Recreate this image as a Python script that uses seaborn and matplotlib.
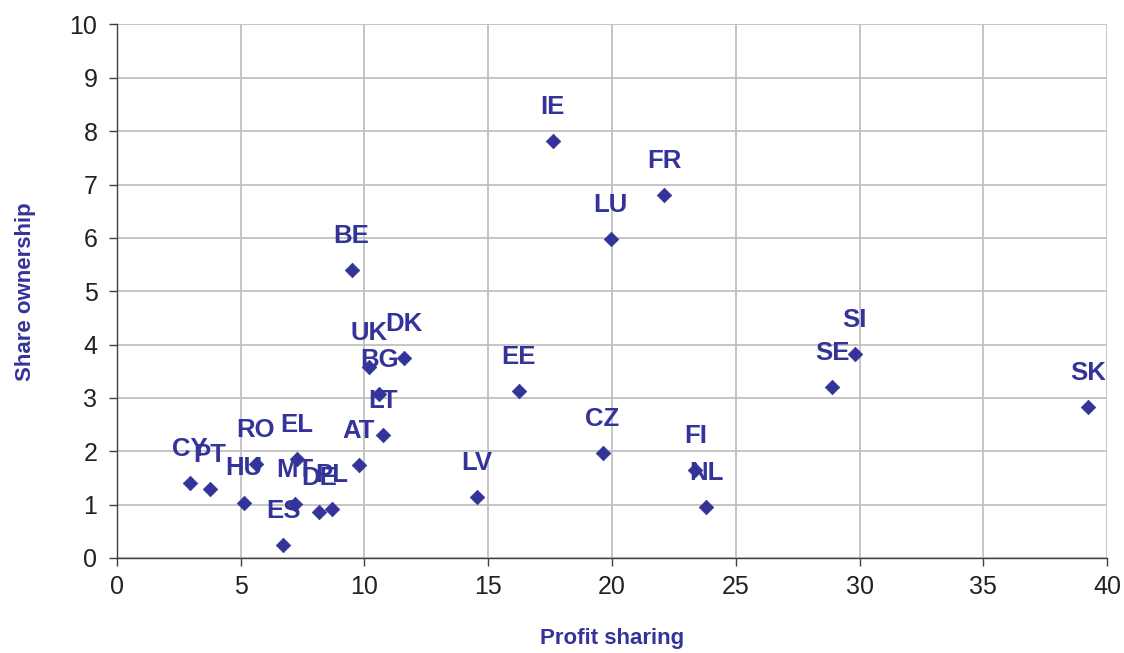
import pandas as pd
import matplotlib
matplotlib.use("Agg")
import matplotlib.pyplot as plt
import seaborn as sns

countries = ['IE', 'FR', 'LU', 'BE', 'UK', 'DK', 'BG', 'LT', 'AT', 'EL', 'RO',
             'CY', 'PT', 'HU', 'MT', 'DE', 'PL', 'ES', 'EE', 'LV', 'CZ', 'FI',
             'NL', 'SE', 'SI', 'SK']
profit_sharing = [17.6, 22.1, 19.95, 9.48, 10.2, 11.6, 10.6, 10.74, 9.77, 7.27, 5.6,
                  2.94, 3.75, 5.12, 7.18, 8.17, 8.67, 6.72, 16.24, 14.54, 19.62, 23.37,
                  23.81, 28.9, 29.81, 39.22]
share_ownership = [7.82, 6.81, 5.98, 5.39, 3.58, 3.74, 3.07, 2.31, 1.75, 1.86, 1.76,
                   1.41, 1.30, 1.04, 1.01, 0.86, 0.92, 0.25, 3.13, 1.15, 1.97, 1.65,
                   0.96, 3.21, 3.82, 2.83]

df = pd.DataFrame({'country': countries, 'profit': profit_sharing, 'share': share_ownership})

navy = '#333399'

sns.set_style('white')
plt.rcParams['font.family'] = ['Liberation Sans', 'DejaVu Sans']

fig = plt.figure(figsize=(11.24, 6.53), dpi=100)
ax = fig.add_axes([0.104, 0.1455, 0.881, 0.817])

sns.scatterplot(data=df, x='profit', y='share', marker='D', s=55, color=navy,
                edgecolor=navy, linewidth=0.5, ax=ax, zorder=3)

# country codes sit centred above their points, as in the source chart
for c, x, y in zip(countries, profit_sharing, share_ownership):
    ax.annotate(c, (x, y), xytext=(0, 19.5), textcoords='offset points',
                ha='center', va='baseline', fontsize=18.5, fontweight='bold',
                color=navy, zorder=4)

ax.set_xlim(0, 40)
ax.set_ylim(0, 10)
ax.set_xticks(range(0, 41, 5))
ax.set_yticks(range(0, 11))
ax.grid(True, color='#c0c0c0', linewidth=1.3)
ax.set_axisbelow(True)

for side in ['top', 'right']:
    ax.spines[side].set_visible(False)
for side in ['left', 'bottom']:
    ax.spines[side].set_color('#404040')
    ax.spines[side].set_linewidth(1.0)

ax.tick_params(axis='both', which='major', direction='out', length=6, width=1,
               color='#404040', labelsize=18, labelcolor='#222222',
               bottom=True, left=True)
ax.tick_params(axis='x', pad=6)
ax.tick_params(axis='y', pad=8)

ax.set_xlabel('Profit sharing', fontsize=16, fontweight='bold', color=navy, labelpad=21)
ax.set_ylabel('Share ownership', fontsize=16, fontweight='bold', color=navy, labelpad=24)

fig.savefig('out.png', dpi=100)
